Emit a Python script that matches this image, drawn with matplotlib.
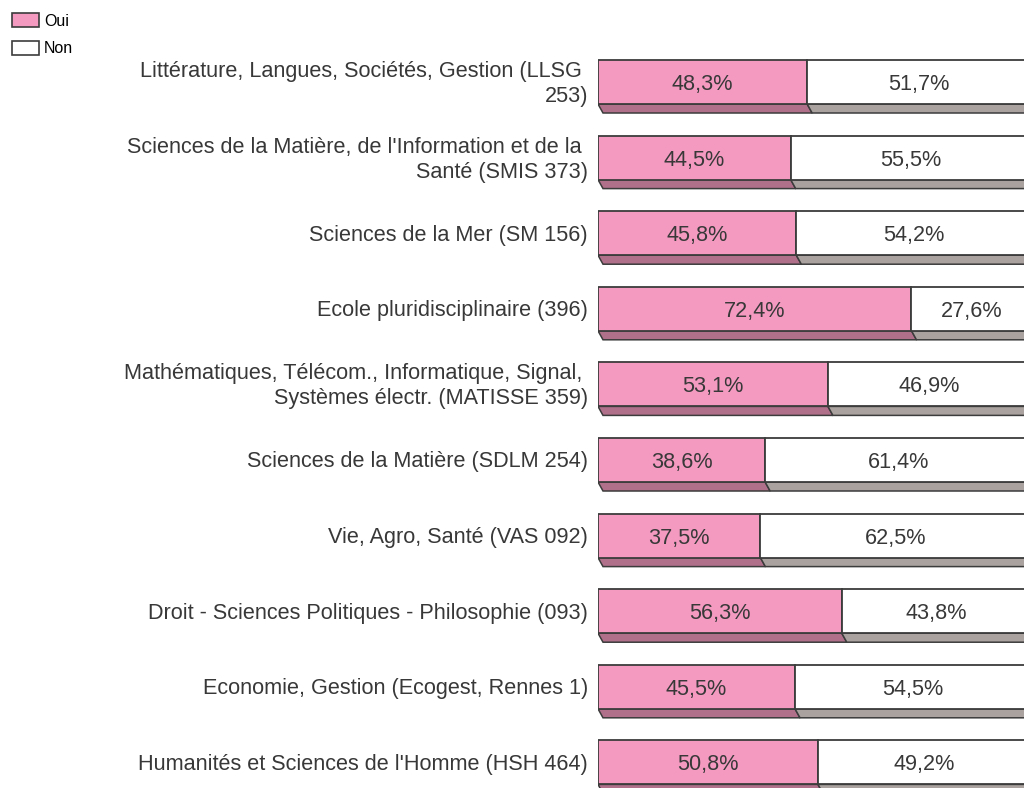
import matplotlib
matplotlib.use("Agg")
import matplotlib.pyplot as plt
import matplotlib.transforms as mtransforms
from matplotlib.patches import Polygon, Patch

plt.rcParams['font.family'] = ['Liberation Sans', 'DejaVu Sans']

categories = [
    "Littérature, Langues, Sociétés, Gestion (LLSG \n253)",
    "Sciences de la Matière, de l'Information et de la \nSanté (SMIS 373)",
    "Sciences de la Mer (SM 156)",
    "Ecole pluridisciplinaire (396)",
    "Mathématiques, Télécom., Informatique, Signal, \nSystèmes électr. (MATISSE 359)",
    "Sciences de la Matière (SDLM 254)",
    "Vie, Agro, Santé (VAS 092)",
    "Droit - Sciences Politiques - Philosophie (093)",
    "Economie, Gestion (Ecogest, Rennes 1)",
    "Humanités et Sciences de l'Homme (HSH 464)",
]
oui = [48.3, 44.5, 45.8, 72.4, 53.1, 38.6, 37.5, 56.3, 45.5, 50.8]
non = [51.7, 55.5, 54.2, 27.6, 46.9, 61.4, 62.5, 43.8, 54.5, 49.2]
series_names = ["Oui", "Non"]

PINK = "#f49ac1"
PINK_DARK = "#b0708a"
GREY_DARK = "#aaa29f"
EDGE = "#3c3c3c"
TXT = "#383838"
FS = 15.6

W, H = 1024, 788
fig = plt.figure(figsize=(W / 100, H / 100), dpi=100)
# axe : 0 % a x=598 px, 100 % a x=1031 px (coupe par le bord)
ax = fig.add_axes([598 / W, 0, 433 / W, 1])
step = 75.6          # px entre deux barres
ax.set_xlim(0, 100)
ax.set_ylim((H - 82) / step, -82 / step)

h = 44 / step        # hauteur de la face
dy = 9 / step        # profondeur de l'ombre
dx = 5 / 433 * 100

y = list(range(len(categories)))

# ombres (face du dessous)
for i, (o, n) in enumerate(zip(oui, non)):
    b = i + h / 2
    for left, right, col in [(0, o, PINK_DARK), (o, o + n, GREY_DARK)]:
        poly = Polygon([(left, b), (right, b), (right + dx, b + dy), (left + dx, b + dy)],
                       closed=True, facecolor=col, edgecolor=EDGE, linewidth=1.1, zorder=1)
        ax.add_patch(poly)

ax.barh(y, oui, height=h, color=PINK, edgecolor=EDGE, linewidth=1.3, zorder=2)
ax.barh(y, non, left=oui, height=h, color="white", edgecolor=EDGE, linewidth=1.3, zorder=2)

for i, (o, n) in enumerate(zip(oui, non)):
    ax.text(o / 2, i, ("%.1f%%" % o).replace(".", ","), ha="center", va="center_baseline",
            fontsize=FS, color=TXT, zorder=3)
    ax.text(o + n / 2, i, ("%.1f%%" % n).replace(".", ","), ha="center", va="center_baseline",
            fontsize=FS, color=TXT, zorder=3)

ax.set_yticks(y)
ax.set_yticklabels(categories, fontsize=FS, color=TXT, linespacing=1.25, va="center")
ax.tick_params(axis="y", length=0, pad=7.2)
# petit decalage vers le bas des libelles
shift = mtransforms.ScaledTranslation(0, -2 / 100, fig.dpi_scale_trans)
for lab in ax.get_yticklabels():
    lab.set_transform(lab.get_transform() + shift)
ax.set_xticks([])
for s in ax.spines.values():
    s.set_visible(False)

handles = [Patch(facecolor=PINK, edgecolor=EDGE, linewidth=1.2),
           Patch(facecolor="white", edgecolor=EDGE, linewidth=1.2)]
fig.legend(handles, series_names, loc="upper left", bbox_to_anchor=(12 / W, 1 - 13 / H),
           frameon=False, fontsize=11.5, handlelength=1.7, handleheight=1.0,
           handletextpad=0.3, labelspacing=0.75, borderpad=0, borderaxespad=0)

fig.savefig("out.png", dpi=100)
